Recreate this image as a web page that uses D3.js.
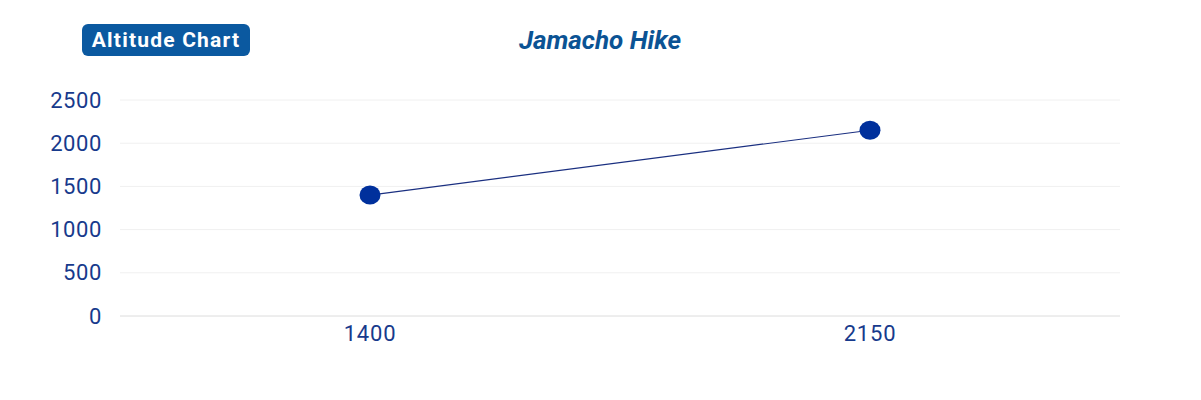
<!DOCTYPE html>
<html>
<head>
<meta charset="utf-8">
<script src="https://cdn.jsdelivr.net/npm/d3@7"></script>
<style>
  body { margin: 0; background: #fff; }
  svg, svg text { font-family: Roboto, "Noto Sans", sans-serif; }
</style>
</head>
<body>
<div id="chart"></div>
<script>
// Data
const categories = ["1400", "2150"];
const altitudes = [1400, 2150];
const yTicks = [0, 500, 1000, 1500, 2000, 2500];

const width = 1201,
    height = 400;
const margin = { top: 100, right: 81, bottom: 84, left: 120 };

const svg = d3.select("#chart")
    .append("svg")
    .attr("width", width)
    .attr("height", height);

// Scales
const x = d3.scaleBand()
    .domain(categories)
    .range([margin.left, width - margin.right]);

const y = d3.scaleLinear()
    .domain([0, 2500])
    .range([height - margin.bottom, margin.top]);

// Gridlines
svg.append("g")
    .selectAll("line")
    .data(yTicks)
    .enter()
    .append("line")
    .attr("x1", margin.left)
    .attr("x2", width - margin.right)
    .attr("y1", d => y(d))
    .attr("y2", d => y(d))
    .attr("stroke", d => d === 0 ? "#dcdcdc" : "#f0f0f0")
    .attr("stroke-width", 1);

// Y axis labels
const yAxis = svg.append("g")
    .attr("transform", `translate(${margin.left - 18},0)`)
    .call(d3.axisLeft(y).tickValues(yTicks).tickFormat(d3.format("d")).tickSize(0).tickPadding(0));
yAxis.select(".domain").remove();
yAxis.selectAll("text")
    .attr("fill", "#173a8c")
    .style("font-family", "Roboto, sans-serif")
    .style("font-size", "22px")
    .style("letter-spacing", "0.6px")
    .attr("dy", "0.32em");

// X axis labels
const xAxis = svg.append("g")
    .attr("transform", `translate(0,${height - margin.bottom})`)
    .call(d3.axisBottom(x).tickSize(0).tickPadding(9));
xAxis.select(".domain").remove();
xAxis.selectAll("text")
    .attr("fill", "#173a8c")
    .style("font-family", "Roboto, sans-serif")
    .style("font-size", "22px")
    .style("letter-spacing", "0.8px");

// Line
const points = categories.map((c, i) => ({ cat: c, value: altitudes[i] }));
const line = d3.line()
    .x(d => x(d.cat) + x.bandwidth() / 2)
    .y(d => y(d.value));

svg.append("path")
    .datum(points)
    .attr("d", line)
    .attr("fill", "none")
    .attr("stroke", "#1a2f80")
    .attr("stroke-width", 1.2);

// Points
svg.selectAll(".dot")
    .data(points)
    .enter()
    .append("ellipse")
    .attr("class", "dot")
    .attr("cx", d => x(d.cat) + x.bandwidth() / 2)
    .attr("cy", d => y(d.value))
    .attr("rx", 10.5)
    .attr("ry", 9.5)
    .attr("fill", "#00309c");

// Badge
const badge = svg.append("g");
badge.append("rect")
    .attr("x", 82)
    .attr("y", 24)
    .attr("width", 168)
    .attr("height", 32)
    .attr("rx", 6)
    .attr("fill", "#0b59a0");
badge.append("text")
    .attr("x", 166)
    .attr("y", 40)
    .attr("dy", "0.35em")
    .attr("text-anchor", "middle")
    .attr("fill", "#fff")
    .style("font-size", "21px")
    .style("font-weight", "bold")
    .style("letter-spacing", "1.2px")
    .text("Altitude Chart");

// Title
svg.append("text")
    .attr("x", 600)
    .attr("y", 40)
    .attr("dy", "0.35em")
    .attr("text-anchor", "middle")
    .attr("fill", "#0b5394")
    .style("font-size", "26px")
    .style("font-weight", "bold")
    .style("font-style", "italic")
    .text("Jamacho Hike");
</script>
</body>
</html>
